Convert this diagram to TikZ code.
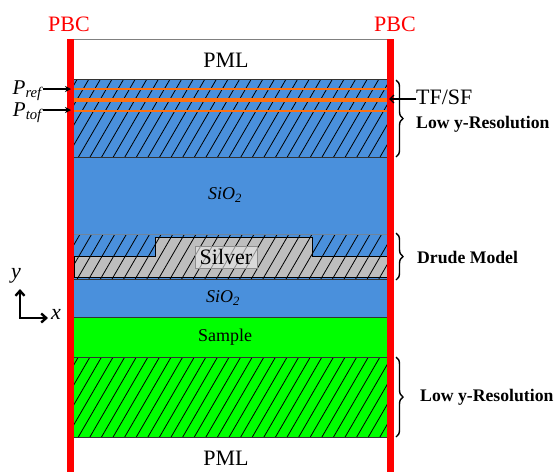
\documentclass[tikz,border=0pt]{standalone}
\usepackage{fontspec}
\setmainfont{Liberation Serif}[
  UprightFont={Liberation Serif},
  ItalicFont={Liberation Serif Italic},
  BoldFont={Liberation Serif Bold},
  BoldItalicFont={Liberation Serif Bold Italic}]
\usetikzlibrary{decorations.pathreplacing,arrows.meta}
\definecolor{sio}{RGB}{74,144,220}
\definecolor{samp}{RGB}{0,255,0}
\definecolor{silv}{RGB}{190,190,190}
\definecolor{orng}{RGB}{255,112,16}
\definecolor{pbcred}{RGB}{255,0,0}
\tikzset{
  hatchline/.style={black, line width=0.8pt},
  edge/.style={black!80, line width=0.8pt},
  orthin/.style={orng, line width=2pt},
  orthick/.style={orng, line width=4.5pt},
  bigtxt/.style={font=\fontsize{22}{24}\selectfont, inner sep=0pt},
  boldtxt/.style={font=\fontsize{17.7}{20}\selectfont\bfseries, inner sep=0pt, anchor=west},
  redtxt/.style={bigtxt, text=pbcred},
  probe/.style={-{Stealth[length=6pt,width=6pt]}, line width=1.3pt},
  bracestyle/.style={decorate, decoration={brace, amplitude=7pt}, line width=1.4pt},
  axisarrow/.style={-{Straight Barb[length=5pt,width=9pt]}, line width=2.4pt},
  itxt/.style={font=\fontsize{#1}{#1}\selectfont\itshape, inner sep=0pt},
}
\newcommand{\hatchregion}[4]{%
  \begin{scope}
    \clip (#1,#2) rectangle (#3,#4);
    \foreach \k in {-30,...,40} {
      \draw[hatchline] ({\k*11.6},472) -- ({\k*11.6+274},0);
    }
  \end{scope}}
\begin{document}
\begin{tikzpicture}[x=1pt,y=-1pt]
  \useasboundingbox (0,0) rectangle (554,472);
  % ---- layers ----
  \fill[sio] (74,79) rectangle (387,317);
  \fill[samp] (74,317) rectangle (387,437);
  % silver layer
  \filldraw[fill=silv, draw=black, line width=0.8pt]
    (74,256) -- (155,256) -- (155,237) -- (312,237) -- (312,256)
    -- (387,256) -- (387,277) -- (74,277) -- cycle;
  % hatching
  \hatchregion{74}{79}{387}{157}
  \hatchregion{74}{234}{387}{279}
  \hatchregion{74}{357}{387}{437}
  % boundaries
  \draw[gray, line width=0.8pt] (74,39) -- (387,39);
  \draw[edge] (74,79) -- (387,79);
  \draw[edge] (74,157) -- (387,157);
  \draw[gray!70!sio, line width=0.8pt] (74,234) -- (387,234);
  \draw[edge] (74,279) -- (387,279);
  \draw[edge] (74,317) -- (387,317);
  \draw[edge] (74,357) -- (387,357);
  \draw[edge] (74,437) -- (387,437);
  % orange probe lines
  \draw[orthin] (74,89) -- (387,89);
  \draw[orthick] (74,100) -- (387,100);
  \draw[orthin] (74,111) -- (387,111);
  % PBC bars
  \fill[pbcred] (67,39) rectangle (74,472);
  \fill[pbcred] (387,39) rectangle (394,472);
  % ---- texts ----
  \node[redtxt] (pbcL) at (69,24) {PBC};
  \node[redtxt] (pbcR) at (395,24) {PBC};
  \node[bigtxt] (pmlT) at (226,60) {PML};
  \node[bigtxt] (pmlB) at (226,458) {PML};
  \node[itxt=18] (sio1) at (225,195) {SiO\textsubscript{2}};
  \node[itxt=18] (sio2) at (223,298) {SiO\textsubscript{2}};
  \node[font=\fontsize{18}{20}\selectfont, inner sep=0pt] (sample) at (225,337) {Sample};
  \node[bigtxt, draw=black!45, fill=white!70!silv, fill opacity=0.6, text opacity=1,
        minimum width=62pt, minimum height=22pt, line width=0.8pt] (silver) at (226,257) {Silver};
  % probes
  \node[itxt=21, anchor=east] (pref) at (42,91) {P\textsubscript{ref}};
  \node[itxt=21, anchor=east] (ptof) at (42,113) {P\textsubscript{tof}};
  \coordinate (prefS) at (43,89);
  \coordinate (prefE) at (71,89);
  \coordinate (ptofS) at (43,110);
  \coordinate (ptofE) at (71,110);
  \draw[probe] (prefS) -- (prefE);
  \draw[probe] (ptofS) -- (ptofE);
  % TF/SF
  \node[bigtxt, anchor=west] (tfsf) at (416,97) {TF/SF};
  \coordinate (tfE) at (389,99);
  \draw[-{Straight Barb[length=4pt,width=8pt]}, line width=1.3pt] (tfsf.west |- tfE) -- (tfE);
  % braces
  \coordinate (b1t) at (396,80);  \coordinate (b1b) at (396,157);
  \coordinate (b2t) at (396,233); \coordinate (b2b) at (396,280);
  \coordinate (b3t) at (396,357); \coordinate (b3b) at (396,437);
  \draw[bracestyle] (b1t) -- (b1b);
  \draw[bracestyle] (b2t) -- (b2b);
  \draw[bracestyle] (b3t) -- (b3b);
  \node[boldtxt] (lowA) at (416,124) {Low y-Resolution};
  \node[boldtxt] (drude) at (417,257) {Drude Model};
  \node[boldtxt] (lowB) at (420,397) {Low y-Resolution};
  % axes
  \coordinate (orig) at (20,318);
  \coordinate (yend) at (20,289);
  \coordinate (xend) at (48,318);
  \draw[axisarrow] (orig) -- (yend);
  \draw[axisarrow] ([xshift=-1.2pt]orig) -- (xend);
  \node[itxt=22] (ylab) at (16,276) {y};
  \node[itxt=22] (xlab) at (56,314) {x};
\end{tikzpicture}
\end{document}
